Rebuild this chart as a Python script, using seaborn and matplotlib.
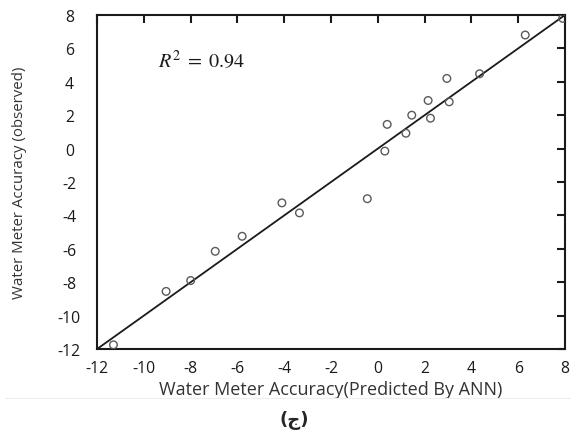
import matplotlib
matplotlib.use('Agg')
import matplotlib.pyplot as plt
from matplotlib.lines import Line2D
import seaborn as sns

# values
predicted = [-11.3, -9.05, -8.0, -6.95, -5.8, -4.1, -3.35, -0.45, 0.3, 0.4,
             1.2, 1.45, 2.15, 2.25, 2.95, 3.05, 4.35, 6.3, 7.9]
observed = [-11.75, -8.55, -7.9, -6.15, -5.25, -3.25, -3.85, -3.0, -0.15, 1.45,
            0.92, 2.0, 2.88, 1.82, 4.2, 2.8, 4.48, 6.8, 7.8]
fit_x = [-12, 8]
fit_y = [-12, 8]
ticks = [-12, -10, -8, -6, -4, -2, 0, 2, 4, 6, 8]
r2_text = r'$R^2\;=\;0.94$'

sns.set_style("white")
plt.rcParams['font.family'] = ['Open Sans', 'DejaVu Sans']
plt.rcParams['mathtext.fontset'] = 'stix'
plt.rcParams['axes.unicode_minus'] = False

fig = plt.figure(figsize=(5.71, 4.39), dpi=100)
ax = fig.add_axes([0.170, 0.2027, 0.8195, 0.7609])

sns.lineplot(x=fit_x, y=fit_y, ax=ax, color='#1a1a1a', linewidth=1.3)
sns.scatterplot(x=predicted, y=observed, ax=ax, marker='o', s=30,
                facecolor='none', edgecolor='#5a5a5a', linewidth=1.0, zorder=3)

ax.set_xlim(-12, 8)
ax.set_ylim(-12, 8)
ax.set_xticks(ticks)
ax.set_yticks(ticks)
ax.tick_params(direction='in', length=6, width=1.5, top=True, right=True,
               labelsize=11.3, colors='#1a1a1a')
ax.tick_params(axis='x', pad=8)
ax.tick_params(axis='y', pad=20)
for lab in ax.get_yticklabels():
    lab.set_horizontalalignment('center')
for s in ax.spines.values():
    s.set_linewidth(1.5)
    s.set_color('#1a1a1a')

ax.set_xlabel('Water Meter Accuracy(Predicted By ANN)', fontsize=13, color='#333333', labelpad=3)
ax.set_ylabel('Water Meter Accuracy (observed)', fontsize=10.8, color='#333333', labelpad=22)

ax.text(-9.4, 5.25, r2_text, fontsize=14.5, va='center', ha='left', color='#1a1a1a')

fig.add_artist(Line2D([0.008, 0.998], [0.091, 0.091], transform=fig.transFigure,
                      color='#eeeeee', linewidth=0.8))
fig.text(0.515, 0.043, '(ج)', ha='center', va='center', fontsize=13,
         fontweight='bold', family=['DejaVu Sans'])

fig.savefig('out.png', dpi=100)
